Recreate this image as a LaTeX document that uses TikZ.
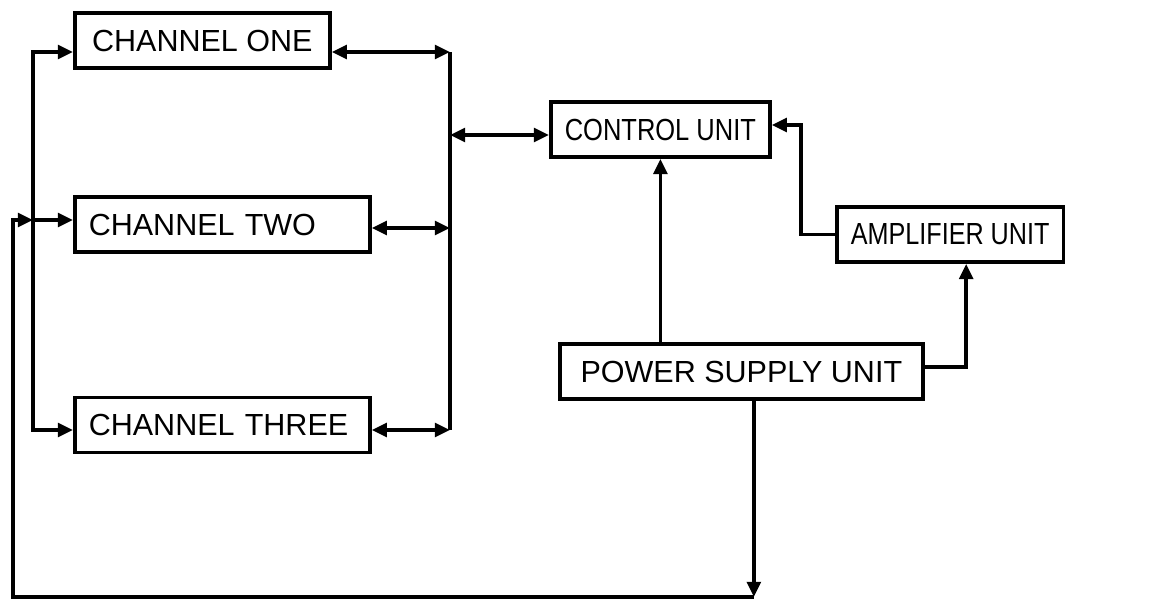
\documentclass[tikz,border=0pt]{standalone}
\usepackage{graphicx}
\usepackage{fontspec}
\setmainfont{Liberation Sans}
\usetikzlibrary{arrows.meta,calc}

\begin{document}
\begin{tikzpicture}[x=.025cm,y=-.025cm,font=\fontsize{21.7}{24}\selectfont,line width=2.6pt,
    box/.style={draw,anchor=west,minimum height=1.375cm,inner xsep=.35cm,inner ysep=0pt,align=left},
    arr/.style={-{Triangle[length=.38cm,width=.34cm]}},
    dbl/.style={{Triangle[length=.38cm,width=.34cm]}-{Triangle[length=.38cm,width=.34cm]}}]
    \useasboundingbox (0,0) rectangle (1175,600);
    % units
    \node[box,minimum width=6.375cm] (one) at (73,40.5) {CHANNEL ONE};
    \node[box,text width=6.675cm] (two) at (73,224.5) {CHANNEL TWO};
    \node[box,text width=6.675cm] (three) at (73,425) {CHANNEL THREE};
    \node[box,minimum width=5.475cm] (ctrl) at (549,129.5) {\scalebox{.835}[1]{CONTROL UNIT}};
    \node[box,minimum width=5.65cm] (amp) at (835,234.5) {\scalebox{.825}[1]{AMPLIFIER UNIT}};
    \node[box,minimum width=9.075cm] (psu) at (558,371.5) {POWER SUPPLY UNIT};
    % bus points
    \coordinate (l1) at (33,52); \coordinate (l2) at (33,220); \coordinate (l3) at (33,430);
    \coordinate (r1) at (450,52); \coordinate (r2) at (450,228); \coordinate (r3) at (450,430);
    \coordinate (rc) at (450,135); \coordinate (fb) at (13,597);
    \coordinate (ps) at ($(psu.south)+(12.5,0)$);
    % left bus
    \draw[dbl] (l1 -| one.west) -- (l1) -- (l3) -- (l3 -| three.west);
    \draw[arr] (l2) -- (l2 -| two.west);
    % right bus
    \draw (r1) -- (r3);
    \draw[dbl] (one.east |- r1) -- (r1);
    \draw[dbl] (two.east |- r2) -- (r2);
    \draw[dbl] (three.east |- r3) -- (r3);
    \draw[dbl] (rc) -- (rc -| ctrl.west);
    % power and control
    \draw[arr] (psu.north -| ctrl.south) -- (ctrl.south);
    \draw[arr] (amp.west) -- ++(-34,0) |- ($(ctrl.east)+(0,-4.5)$);
    \draw[arr] ($(psu.east)+(0,-4.5)$) -| ($(amp.south)+(16,0)$);
    \draw[arr] (ps) -- (ps |- fb);
    \draw[arr] (ps |- fb) -- (fb) |- (l2);
\end{tikzpicture}
\end{document}
